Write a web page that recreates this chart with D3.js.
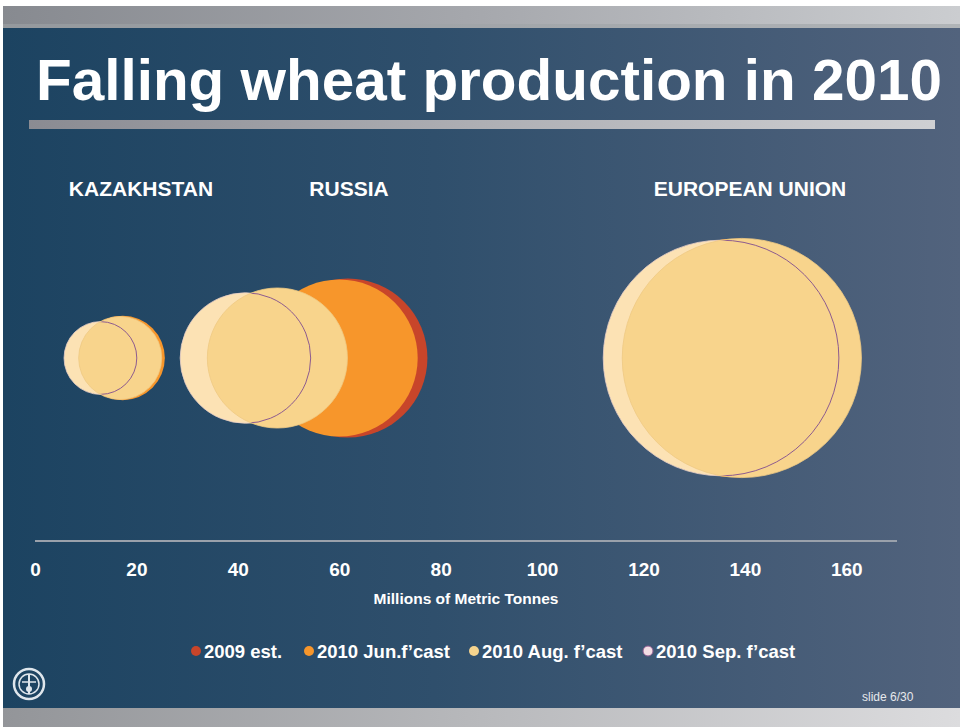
<!DOCTYPE html>
<html>
<head>
<meta charset="utf-8">
<script src="https://cdn.jsdelivr.net/npm/d3@7"></script>
<style>
  html, body { margin: 0; padding: 0; background: #ffffff; }
  svg { display: block; }
  text { font-family: "Liberation Sans", Arial, Helvetica, sans-serif; }
</style>
</head>
<body>
<div id="chart"></div>
<script>
// ---------------- DATA ----------------
const countries = ["KAZAKHSTAN", "RUSSIA", "EUROPEAN UNION"];
const est2009   = [17.0, 61.7, 138.5];
const jun2010   = [17.3, 60.0, 138.0];
const aug2010   = [16.8, 47.8, 139.4];
const sep2010   = [12.9, 41.5, 135.3];
const seriesNames = ["2009 est.", "2010 Jun.f\u2019cast", "2010 Aug. f\u2019cast", "2010 Sep. f\u2019cast"];
const tickValues = [0, 20, 40, 60, 80, 100, 120, 140, 160];
const titleText = "Falling wheat production in 2010";
const axisTitle = "Millions of Metric Tonnes";
const slideText = "slide 6/30";

// ---------------- LAYOUT ----------------
const W = 960, H = 727;
const svg = d3.select("#chart").append("svg").attr("width", W).attr("height", H);
const defs = svg.append("defs");

function hGrad(id, stops) {
  const g = defs.append("linearGradient").attr("id", id)
    .attr("x1", "0%").attr("x2", "100%").attr("y1", "0%").attr("y2", "0%");
  stops.forEach(s => g.append("stop").attr("offset", s[0]).attr("stop-color", s[1]));
}
hGrad("bgBlue", [["0%", "#1c4361"], ["45%", "#2f4f6c"], ["100%", "#52637d"]]);
hGrad("bandTop", [["0%", "#878a90"], ["50%", "#a6a8ad"], ["100%", "#cbcdd0"]]);
hGrad("bandBot", [["0%", "#939599"], ["50%", "#b8b9bc"], ["100%", "#dcdcde"]]);
hGrad("titleBar", [["0%", "#8a8b92"], ["50%", "#aeafb4"], ["100%", "#cfd0d3"]]);

// slide frame
svg.append("rect").attr("x", 0).attr("y", 0).attr("width", W).attr("height", H).attr("fill", "#ffffff");
svg.append("rect").attr("x", 3).attr("y", 6).attr("width", W - 3).attr("height", 22).attr("fill", "url(#bandTop)");
svg.append("rect").attr("x", 3).attr("y", 24).attr("width", W - 3).attr("height", 4).attr("fill", "#9ea3a6").attr("opacity", 0.6);
svg.append("rect").attr("x", 3).attr("y", 28).attr("width", W - 3).attr("height", 680).attr("fill", "url(#bgBlue)");
svg.append("rect").attr("x", 3).attr("y", 708).attr("width", W - 3).attr("height", 19).attr("fill", "url(#bandBot)");

// title
svg.append("text").attr("x", 36).attr("y", 100)
  .attr("font-size", 58).attr("font-weight", "bold").attr("fill", "#ffffff")
  .attr("textLength", 906).attr("lengthAdjust", "spacingAndGlyphs")
  .text(titleText);
svg.append("rect").attr("x", 29).attr("y", 120).attr("width", 906).attr("height", 9).attr("fill", "url(#titleBar)");

// scales
const x = d3.scaleLinear().domain([0, 170]).range([35, 897]);
const y = d3.scaleLinear().domain([0, 2]).range([541, 175]);
const r = d3.scaleSqrt().domain([0, 170]).range([0, 10.13 * Math.sqrt(170)]);
const yVal = 1;

// axis line
svg.append("line").attr("x1", x(0)).attr("x2", x(170)).attr("y1", 541).attr("y2", 541)
  .attr("stroke", "#9aa1ab").attr("stroke-width", 2);

// x axis via d3.axisBottom (labels only)
const axis = d3.axisBottom(x).tickValues(tickValues).tickSize(0).tickPadding(0).tickFormat(d3.format("d"));
const axG = svg.append("g").attr("transform", "translate(0,576)").call(axis);
axG.select(".domain").remove();
axG.selectAll("text")
  .attr("dy", 0).attr("y", 0)
  .attr("fill", "#ffffff").attr("font-size", 19).attr("font-weight", "bold")
  .attr("font-family", "'Liberation Sans', Arial, sans-serif");

svg.append("text").attr("x", 466).attr("y", 604).attr("text-anchor", "middle")
  .attr("font-size", 15.5).attr("font-weight", "bold").attr("fill", "#ffffff")
  .text(axisTitle);

// country labels
const labelCenters = [141, 349, 750];
svg.selectAll("text.country").data(countries).enter().append("text")
  .attr("class", "country")
  .attr("x", (d, i) => labelCenters[i]).attr("y", 196)
  .attr("text-anchor", "middle").attr("font-size", 21).attr("font-weight", "bold")
  .attr("fill", "#ffffff").text(d => d);

// bubbles
const colors = {
  est: "#c8452a",
  jun: "#f7962b",
  aug: "#f8d48c",
  sep: "#fce2b4",
  sepStroke: "#8d5b8f"
};
const rows = countries.map((c, i) => ({ c, est: est2009[i], jun: jun2010[i], aug: aug2010[i], sep: sep2010[i] }));
const bub = svg.append("g");

// clip path = union of Aug circles (Sep outline shows strongly where it crosses them)
const clip = defs.append("clipPath").attr("id", "augClip");
clip.selectAll("circle").data(rows).enter().append("circle")
  .attr("cx", d => x(d.aug)).attr("cy", y(yVal)).attr("r", d => r(d.aug) - 0.5);

function drawLayer(parent, key, fill, stroke, sw, cls) {
  parent.selectAll("circle." + cls).data(rows).enter().append("circle")
    .attr("class", cls)
    .attr("cx", d => x(d[key])).attr("cy", y(yVal)).attr("r", d => r(d[key]))
    .attr("fill", fill).attr("stroke", stroke).attr("stroke-width", sw);
}
drawLayer(bub, "est", colors.est, "none", 0, "est");
drawLayer(bub, "jun", colors.jun, "none", 0, "jun");
drawLayer(bub, "sep", colors.sep, "#e9cfc6", 0.8, "sepfill");
drawLayer(bub, "aug", colors.aug, "#efc983", 0.8, "aug");
const sepLine = bub.append("g").attr("clip-path", "url(#augClip)");
drawLayer(sepLine, "sep", "none", colors.sepStroke, 1, "sepline");

// legend
const legendDots = [196, 309, 474, 648];
const legendFill = [colors.est, colors.jun, "#f5d48e", "#f3dde4"];
const legendStroke = ["none", "none", "none", colors.sepStroke];
const lg = svg.append("g");
seriesNames.forEach((name, i) => {
  lg.append("circle").attr("cx", legendDots[i]).attr("cy", 651).attr("r", 5)
    .attr("fill", legendFill[i]).attr("stroke", legendStroke[i]).attr("stroke-width", 1);
  lg.append("text").attr("x", legendDots[i] + 8).attr("y", 658)
    .attr("font-size", 18.5).attr("font-weight", "bold").attr("fill", "#ffffff")
    .text(name);
});

// FAO logo (decorative)
const logo = svg.append("g").attr("transform", "translate(29,684)");
logo.append("circle").attr("r", 15).attr("fill", "none").attr("stroke", "#dfe6ec").attr("stroke-width", 2.5);
logo.append("circle").attr("r", 10).attr("fill", "none").attr("stroke", "#dfe6ec").attr("stroke-width", 1.5);
logo.append("line").attr("x1", 0).attr("x2", 0).attr("y1", -10).attr("y2", 10).attr("stroke", "#dfe6ec").attr("stroke-width", 2);
logo.append("line").attr("x1", -7).attr("x2", 7).attr("y1", -2).attr("y2", -2).attr("stroke", "#dfe6ec").attr("stroke-width", 1.5);
logo.append("circle").attr("cy", 5).attr("r", 3).attr("fill", "#dfe6ec");

// slide number
svg.append("text").attr("x", 862).attr("y", 701).attr("font-size", 12)
  .attr("fill", "#e6e8ec").text(slideText);
</script>
</body>
</html>
